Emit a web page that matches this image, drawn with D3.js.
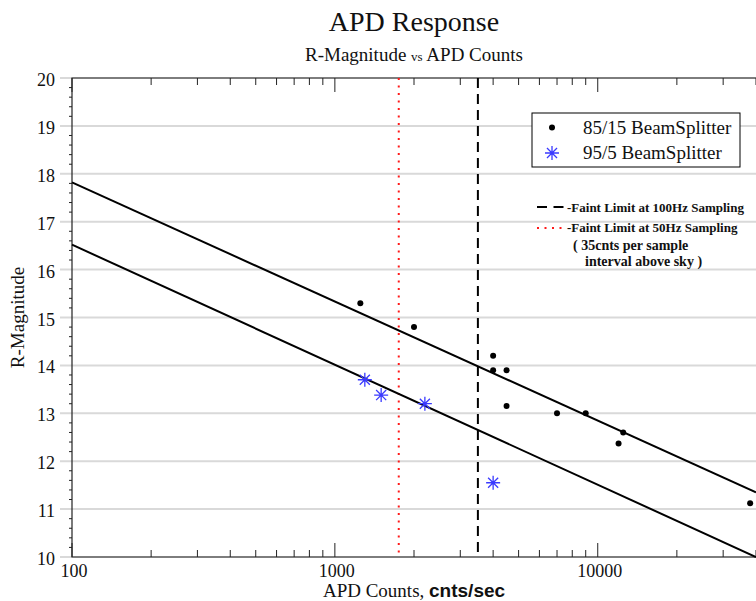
<!DOCTYPE html>
<html>
<head>
<meta charset="utf-8">
<script src="https://cdn.jsdelivr.net/npm/d3@7"></script>
<style>
  body { margin: 0; background: #fff; }
  svg text { font-family: "Liberation Serif", "Times New Roman", serif; fill: #111; }
  .grid line { stroke: #d9d9d9; stroke-width: 2; }
  .frame { stroke: #222; stroke-width: 1.2; fill: none; }
  .tick-mark { stroke: #222; stroke-width: 1; }
  .fit-line { fill: none; stroke: #000; stroke-width: 2; }
</style>
</head>
<body>
<svg id="chart"></svg>
<script>
// 85/15 beamsplitter measurements
const beam85Counts = [1250, 2000, 4000, 4000, 4500, 4500, 7000, 9000, 12500, 12000, 38000];
const beam85Mag = [15.3, 14.8, 14.2, 13.9, 13.9, 13.15, 13.0, 13.0, 12.6, 12.37, 11.12];

// 95/5 beamsplitter measurements
const beam95Counts = [1300, 1500, 2200, 4000];
const beam95Mag = [13.7, 13.38, 13.2, 11.55];

// fitted response lines (end points)
const fitCounts = [100, 40000];
const fitUpperMag = [17.82, 11.35];
const fitLowerMag = [16.52, 10.0];

// faint limits (counts/sec)
const limit100Hz = 3500;
const limit50Hz = 1750;

const xTickValues = [100, 1000, 10000];
const yTickValues = [10, 11, 12, 13, 14, 15, 16, 17, 18, 19, 20];

class ApdChart {
    constructor(_config) {
        this.config = {
            parentElement: _config.parentElement,
            containerWidth: _config.containerWidth || 756,
            containerHeight: _config.containerHeight || 601,
            margin: { top: 78, right: 0, bottom: 44, left: 72 }
        };
        this.initVis();
    }

    initVis() {
        let vis = this;
        const m = vis.config.margin;

        vis.width = vis.config.containerWidth - m.left - m.right;
        vis.height = vis.config.containerHeight - m.top - m.bottom;

        vis.xScale = d3.scaleLog()
            .domain([100, 40000])
            .range([0, vis.width]);

        vis.yScale = d3.scaleLinear()
            .domain([10, 20])
            .range([vis.height, 0]);

        vis.svg = d3.select(vis.config.parentElement)
            .attr('width', vis.config.containerWidth)
            .attr('height', vis.config.containerHeight);

        vis.chart = vis.svg.append('g')
            .attr('transform', `translate(${m.left},${m.top})`);

        // Titles
        vis.svg.append('text')
            .attr('x', m.left + vis.width / 2)
            .attr('y', 31)
            .attr('text-anchor', 'middle')
            .style('font-size', '28px')
            .text('APD Response');

        const sub = vis.svg.append('text')
            .attr('x', m.left + vis.width / 2)
            .attr('y', 61)
            .attr('text-anchor', 'middle')
            .style('font-size', '19px');
        sub.append('tspan').text('R-Magnitude ');
        sub.append('tspan').style('font-size', '13px').text('vs');
        sub.append('tspan').text(' APD Counts');

        vis.renderVis();
    }

    renderVis() {
        let vis = this;

        // gridlines (they also act as major y ticks)
        vis.chart.append('g')
            .attr('class', 'grid')
            .selectAll('line')
            .data(yTickValues)
            .join('line')
            .attr('x1', -12)
            .attr('x2', vis.width)
            .attr('y1', d => vis.yScale(d))
            .attr('y2', d => vis.yScale(d));

        // minor y ticks
        const yMinor = [];
        yTickValues.slice(0, -1).forEach(v => {
            [0.2, 0.4, 0.6, 0.8].forEach(f => yMinor.push(v + f));
        });
        vis.chart.append('g')
            .selectAll('line')
            .data(yMinor)
            .join('line')
            .attr('class', 'tick-mark')
            .attr('x1', -3)
            .attr('x2', 0)
            .attr('y1', d => vis.yScale(d))
            .attr('y2', d => vis.yScale(d));

        // y labels
        vis.chart.append('g')
            .selectAll('text')
            .data(yTickValues)
            .join('text')
            .attr('x', -17)
            .attr('y', d => vis.yScale(d) + 8)
            .attr('text-anchor', 'end')
            .style('font-size', '18px')
            .text(d => d);

        // x ticks (bottom going up, top going down)
        const xTicks = vis.xScale.ticks().filter(d => d <= 40000);
        const isMajor = d => xTickValues.includes(d);
        vis.chart.append('g')
            .selectAll('line')
            .data(xTicks)
            .join('line')
            .attr('class', 'tick-mark')
            .attr('x1', d => vis.xScale(d))
            .attr('x2', d => vis.xScale(d))
            .attr('y1', vis.height)
            .attr('y2', d => vis.height - (isMajor(d) ? 14 : 7));
        vis.chart.append('g')
            .selectAll('line')
            .data(xTicks)
            .join('line')
            .attr('class', 'tick-mark')
            .attr('x1', d => vis.xScale(d))
            .attr('x2', d => vis.xScale(d))
            .attr('y1', 0)
            .attr('y2', d => isMajor(d) ? 14 : 7);

        vis.chart.append('g')
            .selectAll('text')
            .data(xTickValues)
            .join('text')
            .attr('x', d => vis.xScale(d) + 2)
            .attr('y', vis.height + 20)
            .attr('text-anchor', 'middle')
            .style('font-size', '18px')
            .text(d => d);

        // frame
        vis.chart.append('path')
            .attr('class', 'frame')
            .attr('d', `M${vis.width},0H0V${vis.height}H${vis.width}`);

        // axis titles
        const xt = vis.chart.append('text')
            .attr('x', vis.width / 2)
            .attr('y', vis.height + 40)
            .attr('text-anchor', 'middle')
            .style('font-size', '19px');
        xt.append('tspan').text('APD Counts, ');
        xt.append('tspan')
            .style('font-family', '"Liberation Sans", Arial, sans-serif')
            .style('font-weight', 'bold')
            .text('cnts/sec');

        vis.svg.append('text')
            .attr('transform', `translate(24, ${vis.config.margin.top + vis.height / 2}) rotate(-90)`)
            .attr('text-anchor', 'middle')
            .style('font-size', '19px')
            .text('R-Magnitude');

        // faint limits
        vis.chart.append('line')
            .attr('x1', vis.xScale(limit100Hz)).attr('x2', vis.xScale(limit100Hz))
            .attr('y1', 0).attr('y2', vis.height)
            .attr('stroke', '#000').attr('stroke-width', 2)
            .attr('stroke-dasharray', '10,6');
        vis.chart.append('line')
            .attr('x1', vis.xScale(limit50Hz)).attr('x2', vis.xScale(limit50Hz))
            .attr('y1', 0).attr('y2', vis.height)
            .attr('stroke', '#ff1a1a').attr('stroke-width', 2)
            .attr('stroke-dasharray', '2,5.5');

        // fit lines
        const line = d3.line()
            .x(d => vis.xScale(d[0]))
            .y(d => vis.yScale(d[1]));
        [fitUpperMag, fitLowerMag].forEach(mags => {
            vis.chart.append('path')
                .datum(fitCounts.map((c, i) => [c, mags[i]]))
                .attr('class', 'fit-line')
                .attr('d', line);
        });

        // 85/15 points
        vis.chart.append('g')
            .selectAll('circle')
            .data(beam85Counts.map((c, i) => [c, beam85Mag[i]]))
            .join('circle')
            .attr('cx', d => vis.xScale(d[0]))
            .attr('cy', d => vis.yScale(d[1]))
            .attr('r', 3)
            .attr('fill', '#000');

        // 95/5 points
        vis.chart.append('g')
            .selectAll('path')
            .data(beam95Counts.map((c, i) => [c, beam95Mag[i]]))
            .join('path')
            .attr('transform', d => `translate(${vis.xScale(d[0])},${vis.yScale(d[1])})`)
            .attr('d', vis.star(7))
            .attr('stroke', '#3a3aff')
            .attr('stroke-width', 1.3)
            .attr('fill', 'none');

        vis.renderLegend();
    }

    star(r) {
        const d = r * 0.72;
        return `M${-r},0H${r}M0,${-r}V${r}M${-d},${-d}L${d},${d}M${-d},${d}L${d},${-d}`;
    }

    renderLegend() {
        let vis = this;

        const legend = vis.svg.append('g')
            .attr('transform', 'translate(532, 113)');

        legend.append('rect')
            .attr('width', 208)
            .attr('height', 54)
            .attr('fill', '#fff')
            .attr('stroke', '#000')
            .attr('stroke-width', 1);

        legend.append('circle')
            .attr('cx', 20).attr('cy', 14.5).attr('r', 3)
            .attr('fill', '#000');
        legend.append('text')
            .attr('x', 51).attr('y', 21)
            .style('font-size', '19px')
            .text('85/15 BeamSplitter');

        legend.append('path')
            .attr('transform', 'translate(20, 40)')
            .attr('d', vis.star(7))
            .attr('stroke', '#3a3aff')
            .attr('stroke-width', 1.3)
            .attr('fill', 'none');
        legend.append('text')
            .attr('x', 51).attr('y', 46)
            .style('font-size', '19px')
            .text('95/5 BeamSplitter');

        // limit annotations
        const note = vis.svg.append('g');
        note.append('line')
            .attr('x1', 537).attr('x2', 564)
            .attr('y1', 207).attr('y2', 207)
            .attr('stroke', '#000').attr('stroke-width', 2)
            .attr('stroke-dasharray', '10,6.5');
        note.append('text')
            .attr('x', 567).attr('y', 212)
            .style('font-size', '13px').style('font-weight', 'bold')
            .text('-Faint Limit at 100Hz Sampling');

        note.append('line')
            .attr('x1', 537).attr('x2', 566)
            .attr('y1', 228).attr('y2', 228)
            .attr('stroke', '#ff1a1a').attr('stroke-width', 2)
            .attr('stroke-dasharray', '2,5.5');
        note.append('text')
            .attr('x', 567).attr('y', 232)
            .style('font-size', '13px').style('font-weight', 'bold')
            .text('-Faint Limit at 50Hz Sampling');

        note.append('text')
            .attr('x', 573).attr('y', 250)
            .style('font-size', '14px').style('font-weight', 'bold')
            .text('( 35cnts per sample');
        note.append('text')
            .attr('x', 585).attr('y', 266)
            .style('font-size', '14px').style('font-weight', 'bold')
            .text('interval above sky )');
    }
}

new ApdChart({ parentElement: '#chart' });
</script>
</body>
</html>
